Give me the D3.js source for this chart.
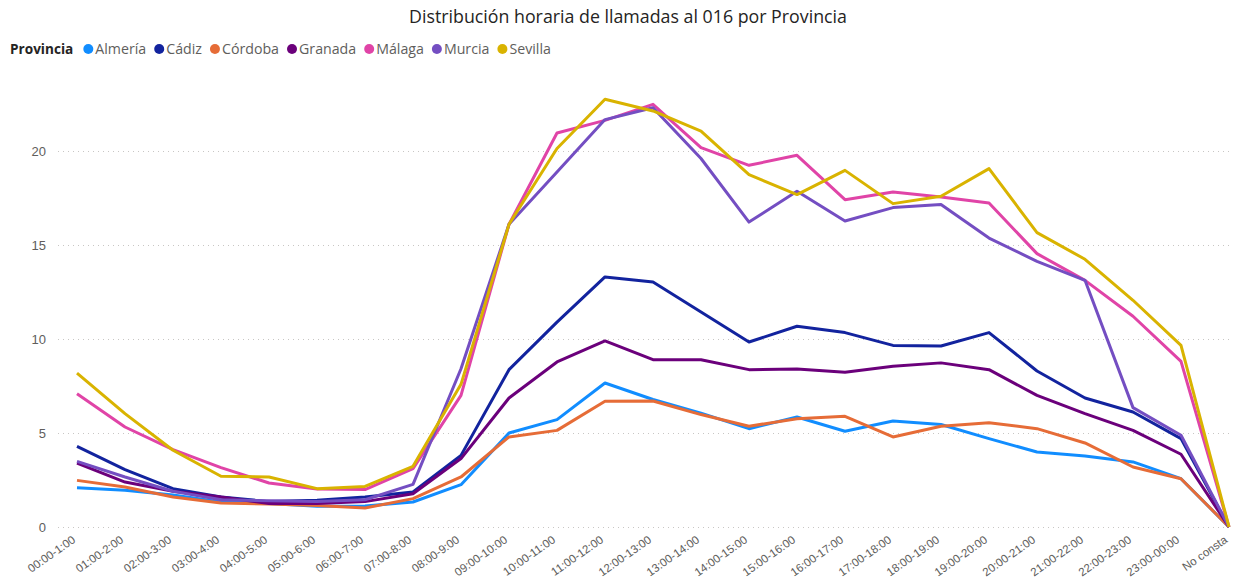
<html>
    <head>
        <style>
        body {
            margin: 0;
            background: white;
            font-family: "Segoe UI", "Open Sans", sans-serif;
        }

        .y .tick line {
            stroke: #c8c6c4;
            stroke-dasharray: 1,4;
        }

        .y .domain, .x .domain, .x .tick line {
            display: none;
        }

        .tick text {
            fill: #605e5c;
        }
        </style>
    </head>
    <body>
        <div id="plot"></div>
        <script src="https://d3js.org/d3.v7.min.js"></script>
        <script>

            let hours = ["00:00-1:00", "01:00-2:00", "02:00-3:00", "03:00-4:00", "04:00-5:00",
                "05:00-6:00", "06:00-7:00", "07:00-8:00", "08:00-9:00", "09:00-10:00",
                "10:00-11:00", "11:00-12:00", "12:00-13:00", "13:00-14:00", "14:00-15:00",
                "15:00-16:00", "16:00-17:00", "17:00-18:00", "18:00-19:00", "19:00-20:00",
                "20:00-21:00", "21:00-22:00", "22:00-23:00", "23:00-00:00", "No consta"]

            let provincias = ["Almería", "Cádiz", "Córdoba", "Granada", "Málaga", "Murcia", "Sevilla"]
            let colores = ["#118DFF", "#12239E", "#E66C37", "#6B007B", "#E044A7", "#744EC2", "#D9B300"]

            let almeria = [2.09, 1.95, 1.70, 1.33, 1.25, 1.10, 1.12, 1.33, 2.25, 5.00, 5.71, 7.66, 6.78, 6.06, 5.23, 5.85, 5.09, 5.64, 5.45, 4.70, 3.99, 3.78, 3.46, 2.57, 0]
            let cadiz = [4.29, 3.05, 2.04, 1.60, 1.35, 1.42, 1.60, 1.86, 3.81, 8.37, 10.90, 13.30, 13.03, 11.44, 9.84, 10.68, 10.34, 9.66, 9.63, 10.34, 8.30, 6.86, 6.12, 4.70, 0]
            let cordoba = [2.48, 2.13, 1.60, 1.28, 1.22, 1.15, 1.01, 1.51, 2.66, 4.79, 5.14, 6.69, 6.70, 5.98, 5.36, 5.76, 5.89, 4.79, 5.36, 5.55, 5.23, 4.47, 3.19, 2.57, 0]
            let granada = [3.40, 2.39, 1.90, 1.60, 1.25, 1.25, 1.35, 1.77, 3.64, 6.86, 8.78, 9.90, 8.90, 8.90, 8.37, 8.41, 8.23, 8.55, 8.73, 8.37, 7.00, 6.03, 5.14, 3.87, 0]
            let malaga = [7.09, 5.32, 4.12, 3.16, 2.34, 2.02, 1.99, 3.10, 7.00, 16.10, 20.96, 21.63, 22.48, 20.18, 19.24, 19.77, 17.41, 17.82, 17.55, 17.23, 14.54, 13.12, 11.21, 8.81, 0]
            let murcia = [3.49, 2.66, 1.90, 1.45, 1.40, 1.35, 1.45, 2.27, 8.42, 16.10, 18.88, 21.67, 22.30, 19.60, 16.22, 17.86, 16.28, 16.99, 17.15, 15.37, 14.13, 13.12, 6.35, 4.88, 0]
            let sevilla = [8.19, 6.03, 4.08, 2.70, 2.66, 2.04, 2.16, 3.23, 7.59, 16.10, 20.13, 22.75, 22.13, 21.06, 18.74, 17.68, 18.97, 17.20, 17.59, 19.06, 15.66, 14.24, 12.06, 9.66, 0]

            let series = [almeria, cadiz, cordoba, granada, malaga, murcia, sevilla]

            let yTicks = [0, 5, 10, 15, 20]

            let width = 1237
            let height = 577

            let margin = {top: 57, right: 8, bottom: 50, left: 77}

            let svg = d3.select("#plot")
                .append("svg")
                .attr("width", width)
                .attr("height", height)

            let x = d3.scalePoint()
                .domain(hours)
                .range([margin.left, width - margin.right])

            let y = d3.scaleLinear()
                .domain([0, 25])
                .range([height - margin.bottom, margin.top])

            // title
            svg.append("text")
                .attr("x", 628)
                .attr("y", 23)
                .attr("text-anchor", "middle")
                .style("font-size", "17.8px")
                .style("fill", "#252423")
                .text("Distribución horaria de llamadas al 016 por Provincia")

            // legend
            let legend = svg.append("g").attr("transform", "translate(10, 54)")
            let title = legend.append("text")
                .style("font-size", "13.6px")
                .style("font-weight", "bold")
                .style("fill", "#252423")
                .text("Provincia")
            let lx = title.node().getComputedTextLength() + 10
            provincias.forEach((p, i) => {
                legend.append("circle")
                    .attr("cx", lx + 5)
                    .attr("cy", -5)
                    .attr("r", 5)
                    .style("fill", colores[i])
                let t = legend.append("text")
                    .attr("x", lx + 12)
                    .style("font-size", "14.2px")
                    .style("fill", "#605e5c")
                    .text(p)
                lx += 12 + t.node().getComputedTextLength() + 8
            })

            let yAxis = svg.append("g")
                .attr("class", "y axis")
                .attr("transform", `translate(58, 0)`)
                .call(d3.axisLeft(y).tickValues(yTicks).tickSize(-(width - 58 - 6)).tickPadding(12))

            yAxis.selectAll(".tick text").style("font-size", "13px")

            let xAxis = svg.append("g")
                .attr("class", "x axis")
                .attr("transform", `translate(0, ${height - margin.bottom})`)
                .call(d3.axisBottom(x).tickSize(0))

            xAxis.selectAll(".tick text")
                .style("font-size", "11.5px")
                .attr("text-anchor", "end")
                .attr("dx", "0")
                .attr("dy", "0")
                .attr("transform", "translate(-3, 12) rotate(-35)")

            let line = d3.line()
                .x((d, i) => x(hours[i]))
                .y(d => y(d))

            svg.append("g")
                .selectAll("path")
                .data(series)
                .join("path")
                .attr("d", d => line(d))
                .style("fill", "none")
                .style("stroke", (d, i) => colores[i])
                .style("stroke-width", 3)
                .style("stroke-linejoin", "round")

        </script>
    </body>
</html>
